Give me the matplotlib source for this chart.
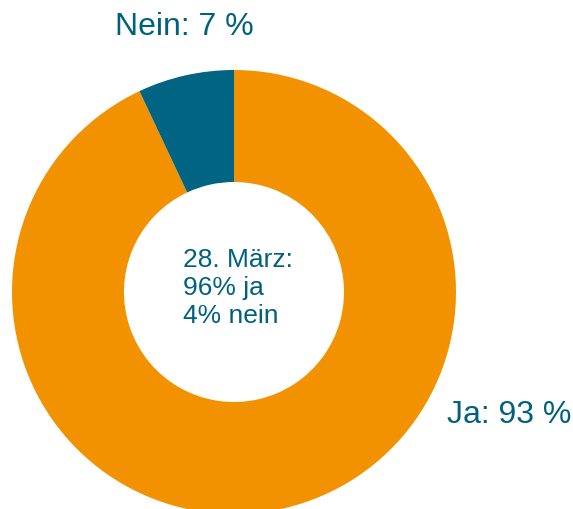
import matplotlib.pyplot as plt

# data
labels = ["Ja", "Nein"]
values = [93, 7]
colors = ["#F39200", "#006482"]
note_lines = ["28. März:", "96% ja", "4% nein"]

text_color = "#00617F"
plt.rcParams['font.family'] = ['Liberation Sans', 'DejaVu Sans']

fig = plt.figure(figsize=(5.73, 5.09), dpi=100)
ax = fig.add_axes([0, 0, 1, 1])

# pixel coordinates, y upwards (509 - y from top)
H = 509
cx, cy, r_out, r_in = 234, H - 292, 222, 110
ax.pie(values, colors=colors, startangle=90, counterclock=False,
       center=(cx, cy), radius=r_out,
       wedgeprops=dict(width=r_out - r_in, linewidth=0))
ax.set_xlim(0, 573)
ax.set_ylim(0, H)
ax.set_aspect('equal')
ax.axis('off')

ax.text(184, H - 27, f"{labels[1]}: {values[1]} %", ha='center', va='center',
        fontsize=23, color=text_color)
ax.text(447, H - 415, f"{labels[0]}: {values[0]} %", ha='left', va='center',
        fontsize=23, color=text_color)
ax.text(183, H - 288, "\n".join(note_lines), ha='left', va='center',
        fontsize=19, color=text_color, linespacing=1.22)

fig.savefig("out.png", dpi=100)
